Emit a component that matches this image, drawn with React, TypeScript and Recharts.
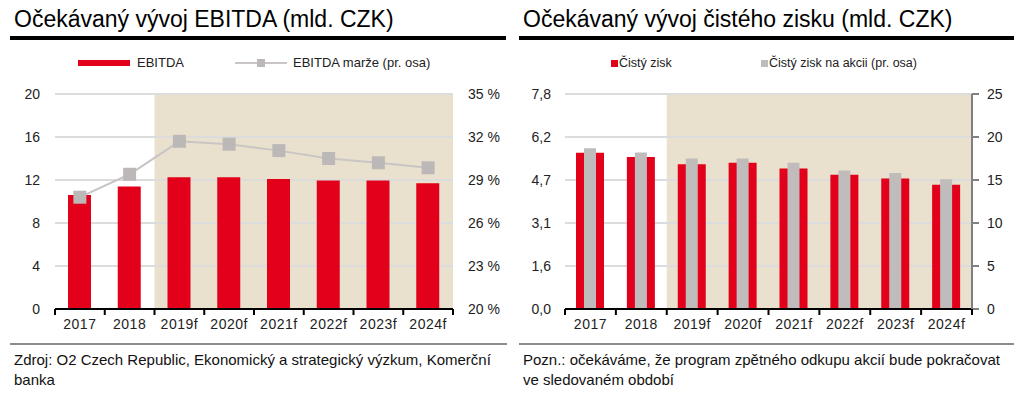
import React from "react";
import {
  ComposedChart,
  Bar,
  Line,
  XAxis,
  YAxis,
  CartesianGrid,
  ReferenceArea,
} from "recharts";

const years = ["2017", "2018", "2019f", "2020f", "2021f", "2022f", "2023f", "2024f"];
const forecastStart = "2019f";

// levý graf
const ebitda = [10.6, 11.4, 12.25, 12.25, 12.1, 11.95, 11.95, 11.7];
const ebitdaMargin = [27.8, 29.4, 31.7, 31.5, 31.05, 30.5, 30.2, 29.85];
const ebitdaTicks = [0, 4, 8, 12, 16, 20];
const marginTicks = [20, 23, 26, 29, 32, 35];

// pravý graf
const netProfit = [5.67, 5.51, 5.25, 5.31, 5.1, 4.87, 4.73, 4.51];
const eps = [18.7, 18.2, 17.5, 17.5, 17.0, 16.1, 15.8, 15.1];
const profitTicks = [0, 1.56, 3.12, 4.68, 6.24, 7.8];
const epsTicks = [0, 5, 10, 15, 20, 25];

const ebitdaData = years.map((year, i) => ({
  year,
  ebitda: ebitda[i],
  margin: ebitdaMargin[i],
}));

const profitData = years.map((year, i) => ({
  year,
  profit: netProfit[i],
  eps: eps[i],
}));

const RED = "#E2001A";
const GREY = "#C0BCBC";
const BEIGE = "#E9E1CD";
const GRID = "#DCDCDC";
const FONT = "'Liberation Sans', Arial, sans-serif";
const TICK_SIZE = 6;
const TICK_MARGIN = 4;

function YearTick(props: any) {
  const { x, y, payload, index, visibleTicksCount, width } = props;
  const half = payload.offset ?? width / visibleTicksCount / 2;
  const axisY = y - TICK_SIZE - TICK_MARGIN;
  return (
    <g>
      <line x1={x - half} x2={x - half} y1={axisY} y2={axisY + 6} stroke="#000" strokeWidth={2} />
      {index === visibleTicksCount - 1 && (
        <line x1={x + half} x2={x + half} y1={axisY} y2={axisY + 6} stroke="#000" strokeWidth={2} />
      )}
      <text
        x={x}
        y={y}
        dy="0.71em"
        textAnchor="middle"
        fill="#222"
        fontSize={14}
        letterSpacing={0.5}
        fontFamily={FONT}
      >
        {payload.value}
      </text>
    </g>
  );
}

function SquareDot(props: any) {
  const { cx, cy } = props;
  if (cx == null || cy == null) return null;
  return <rect x={cx - 6.5} y={cy - 6.5} width={13} height={13} fill="#BDB8B8" />;
}

const tickStyle = { fill: "#222", fontSize: 14, fontFamily: FONT };

function Title({ left, width, text }: { left: number; width: number; text: string }) {
  return (
    <>
      <div
        style={{
          position: "absolute",
          left: left + 4,
          top: 6,
          fontSize: 23,
          lineHeight: "26px",
          whiteSpace: "nowrap",
          color: "#000",
        }}
      >
        {text}
      </div>
      <div style={{ position: "absolute", left, top: 36, width, height: 4, background: "#000" }} />
    </>
  );
}

function Footer({ left, width, lines }: { left: number; width: number; lines: string[] }) {
  return (
    <>
      <div style={{ position: "absolute", left, top: 343, width, height: 2, background: "#8c8c8c" }} />
      <div
        style={{
          position: "absolute",
          left: left + 4,
          top: 350,
          fontSize: 15,
          lineHeight: "20px",
          color: "#111",
          whiteSpace: "nowrap",
        }}
      >
        {lines.map((l) => (
          <div key={l}>{l}</div>
        ))}
      </div>
    </>
  );
}

const legendText: React.CSSProperties = {
  position: "absolute",
  top: 55,
  fontSize: 13,
  lineHeight: "16px",
  color: "#222",
  whiteSpace: "nowrap",
};

export default function App() {
  return (
    <div
      style={{
        position: "absolute",
        left: 0,
        top: 0,
        width: 1024,
        height: 397,
        background: "#fff",
        fontFamily: FONT,
        overflow: "hidden",
      }}
    >
      <Title left={10} width={496} text="Očekávaný vývoj EBITDA (mld. CZK)" />
      <Title left={519} width={495} text="Očekávaný vývoj čistého zisku (mld. CZK)" />

      {/* legenda vlevo */}
      <div style={{ position: "absolute", left: 78, top: 60, width: 52, height: 6, background: RED }} />
      <div style={{ ...legendText, left: 137 }}>EBITDA</div>
      <div style={{ position: "absolute", left: 235, top: 62, width: 52, height: 2, background: "#C9C5C5" }} />
      <div style={{ position: "absolute", left: 257, top: 59, width: 8, height: 8, background: "#BDB8B8" }} />
      <div style={{ ...legendText, left: 293 }}>EBITDA marže (pr. osa)</div>

      {/* legenda vpravo */}
      <div style={{ position: "absolute", left: 611, top: 60, width: 7, height: 7, background: RED }} />
      <div style={{ ...legendText, left: 619, fontSize: 12.5 }}>Čistý zisk</div>
      <div style={{ position: "absolute", left: 761, top: 60, width: 7, height: 7, background: GREY }} />
      <div style={{ ...legendText, left: 769, fontSize: 12.5 }}>Čistý zisk na akcii (pr. osa)</div>

      <div style={{ position: "absolute", left: 0, top: 80 }}>
        <ComposedChart
          width={512}
          height={260}
          data={ebitdaData}
          margin={{ top: 14, right: 9, bottom: 6, left: 0 }}
        >
          <ReferenceArea
            x1={forecastStart}
            x2={years[years.length - 1]}
            yAxisId="left"
            fill={BEIGE}
            fillOpacity={1}
            stroke="none"
            zIndex={-200}
          />
          <CartesianGrid vertical={false} stroke={GRID} strokeWidth={2} yAxisId="left" />
          <XAxis
            dataKey="year"
            axisLine={{ stroke: "#000", strokeWidth: 2 }}
            tickLine={false}
            tickSize={TICK_SIZE}
            tickMargin={TICK_MARGIN}
            height={25}
            interval={0}
            tick={<YearTick />}
          />
          <YAxis
            yAxisId="left"
            domain={[0, 20]}
            ticks={ebitdaTicks}
            axisLine={false}
            tickLine={false}
            tickMargin={9}
            width={55}
            tick={tickStyle}
          />
          <YAxis
            yAxisId="right"
            orientation="right"
            domain={[20, 35]}
            ticks={marginTicks}
            axisLine={false}
            tickLine={false}
            tickMargin={9}
            width={50}
            tick={{ ...tickStyle, textAnchor: "start" }}
            tickFormatter={(v: number) => `${v} %`}
          />
          <Bar yAxisId="left" dataKey="ebitda" fill={RED} barSize={23} isAnimationActive={false} />
          <Line
            yAxisId="right"
            dataKey="margin"
            stroke="#C9C5C5"
            strokeWidth={2}
            dot={<SquareDot />}
            activeDot={false}
            isAnimationActive={false}
          />
        </ComposedChart>
      </div>

      <div style={{ position: "absolute", left: 512, top: 80 }}>
        <ComposedChart
          width={512}
          height={260}
          data={profitData}
          margin={{ top: 14, right: 7, bottom: 6, left: 0 }}
        >
          <ReferenceArea
            x1={forecastStart}
            x2={years[years.length - 1]}
            xAxisId="a"
            yAxisId="left"
            fill={BEIGE}
            fillOpacity={1}
            stroke="none"
            zIndex={-200}
          />
          <CartesianGrid vertical={false} stroke={GRID} strokeWidth={2} xAxisId="a" yAxisId="left" />
          <XAxis
            xAxisId="a"
            dataKey="year"
            axisLine={{ stroke: "#000", strokeWidth: 2 }}
            tickLine={false}
            tickSize={TICK_SIZE}
            tickMargin={TICK_MARGIN}
            height={25}
            interval={0}
            tick={<YearTick />}
          />
          <XAxis xAxisId="b" dataKey="year" hide />
          <YAxis
            yAxisId="left"
            domain={[0, 7.8]}
            ticks={profitTicks}
            axisLine={false}
            tickLine={false}
            tickMargin={8}
            width={53}
            tick={tickStyle}
            tickFormatter={(v: number) => v.toFixed(1).replace(".", ",")}
          />
          <YAxis
            yAxisId="right"
            orientation="right"
            domain={[0, 25]}
            ticks={epsTicks}
            axisLine={{ stroke: "#808080", strokeWidth: 2 }}
            tickLine={{ stroke: "#808080", strokeWidth: 2 }}
            tickSize={7}
            tickMargin={8}
            width={45}
            tick={{ ...tickStyle, textAnchor: "start" }}
          />
          <Bar xAxisId="a" yAxisId="left" dataKey="profit" fill={RED} barSize={28} isAnimationActive={false} />
          <Bar xAxisId="b" yAxisId="right" dataKey="eps" fill={GREY} barSize={12} isAnimationActive={false} />
        </ComposedChart>
      </div>

      <Footer
        left={10}
        width={497}
        lines={["Zdroj: O2 Czech Republic, Ekonomický a strategický výzkum, Komerční", "banka"]}
      />
      <Footer
        left={519}
        width={495}
        lines={["Pozn.: očekáváme, že program zpětného odkupu akcií bude pokračovat", "ve sledovaném období"]}
      />
    </div>
  );
}
